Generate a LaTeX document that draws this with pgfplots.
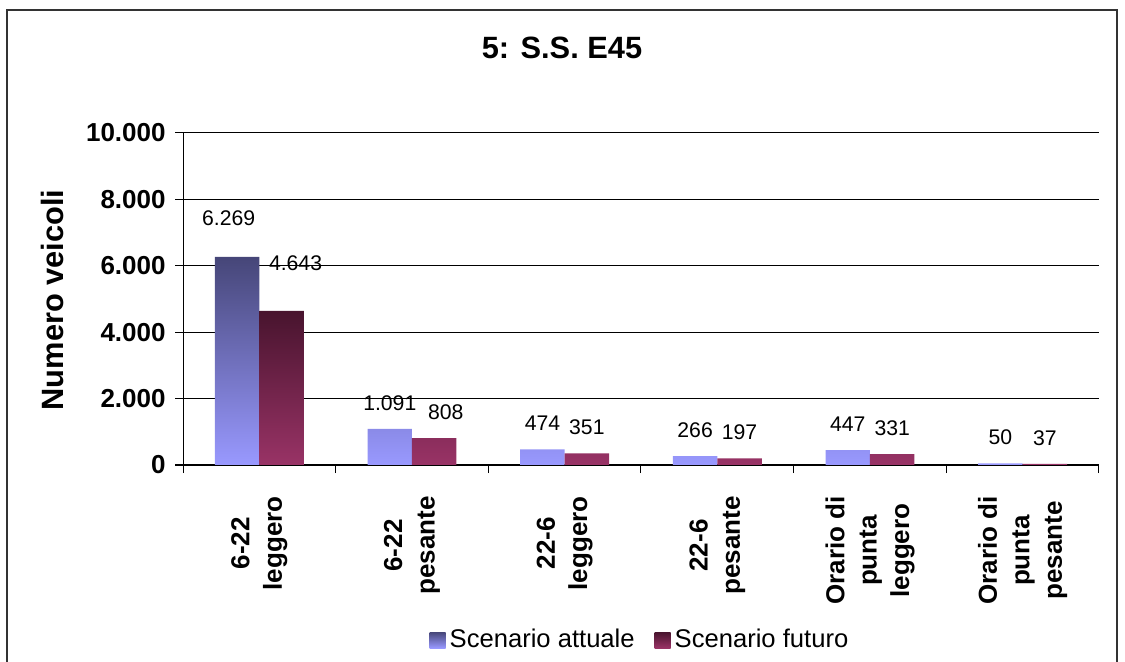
\documentclass[border=0pt]{standalone}
\usepackage{pgfplots}
\pgfplotsset{compat=1.18}
\usepackage{pgfplotstable}
\usepackage{fontspec}
\setmainfont{Liberation Sans}

% bar gradients (dark at the top, light at the base)
\definecolor{attualeTop}{RGB}{70,70,120}
\definecolor{attualeBot}{RGB}{153,153,255}
\definecolor{futuroTop}{RGB}{72,20,46}
\definecolor{futuroBot}{RGB}{153,51,102}

% x = category, y = vehicles, dx/dy = label nudges (pt)
\pgfplotstableread{
x y dx dy
0 6269 -4.25 6.5
1 1091 0 0
2 474 0 0
3 266 0 0
4 447 0 0
5 50 0 0
}\attuale

\pgfplotstableread{
x y dx dy
0 4643 7 11
1 808 5.75 0
2 351 0 0
3 197 0 0
4 331 0 0
5 37 0 0
}\futuro

\begin{document}
\begin{tikzpicture}
\useasboundingbox (0,0) rectangle (562.5pt,-331pt);
% outer chart frame
\draw[black!80, line width=1pt] (3.5pt,-340pt) -- (3.5pt,-5pt) -- (558.5pt,-5pt) -- (558.5pt,-340pt);
\node[font=\bfseries\fontsize{15.4}{18}\selectfont, anchor=base] at (281pt,-29.5pt) {5: S.S. E45};
\node[font=\bfseries\fontsize{15.4}{18}\selectfont, rotate=90, anchor=base] at (31.5pt,-150pt) {Numero veicoli};
\begin{axis}[
  at={(91.5pt,-232.5pt)}, anchor=south west,
  width=458pt, height=166pt, scale only axis,
  xmin=-0.5, xmax=5.5, ymin=0, ymax=10000,
  axis x line*=bottom, axis y line*=left,
  axis line style={black, line width=0.5pt, -},
  ybar=0pt, bar width=0.291,
  xtick={-0.5,0.5,...,5.5},
  x tick label as interval,
  xticklabels={{6-22\\leggero},{6-22\\pesante},{22-6\\leggero},{22-6\\pesante},{Orario di\\punta\\leggero},{Orario di\\punta\\pesante}},
  ytick={0,2000,...,10000},
  scaled y ticks=false,
  tick align=outside, major tick length=4pt,
  tick style={black, line width=0.5pt},
  ymajorgrids, grid style={black, line width=0.5pt},
  /pgf/number format/.cd, 1000 sep={.}, fixed, precision=0, assume math mode=true,
  /pgfplots/.cd,
  yticklabel style={font=\bfseries\fontsize{13}{15}\selectfont, inner sep=0pt, xshift=-4.5pt},
  xticklabel style={font=\bfseries\fontsize{13}{16.2}\selectfont, rotate=90, anchor=east, align=center, inner sep=0pt},
  xticklabel shift=11.5pt,
  legend columns=2,
  legend style={at={(0.5,0)}, anchor=center, yshift=-87.5pt, draw=none, fill=none,
    font=\fontsize{12.8}{15}\selectfont,
    /tikz/every even column/.append style={column sep=8pt}},
  legend image code/.code={\path[#1, draw=none] (0pt,-4pt) rectangle (8pt,4pt);},
  nodes near coords,
  visualization depends on={\thisrow{dx} \as \dx},
  visualization depends on={\thisrow{dy} \as \dy},
  every node near coord/.append style={font=\fontsize{10.6}{12}\selectfont, inner sep=0pt,
    xshift=\dx*1pt, yshift=9pt+\dy*1pt},
]
\addplot[draw=none, top color=attualeTop, bottom color=attualeBot] table[x=x, y=y] {\attuale};
\addplot[draw=none, top color=futuroTop, bottom color=futuroBot] table[x=x, y=y] {\futuro};
\legend{Scenario attuale, Scenario futuro}
\end{axis}
\end{tikzpicture}
\end{document}
